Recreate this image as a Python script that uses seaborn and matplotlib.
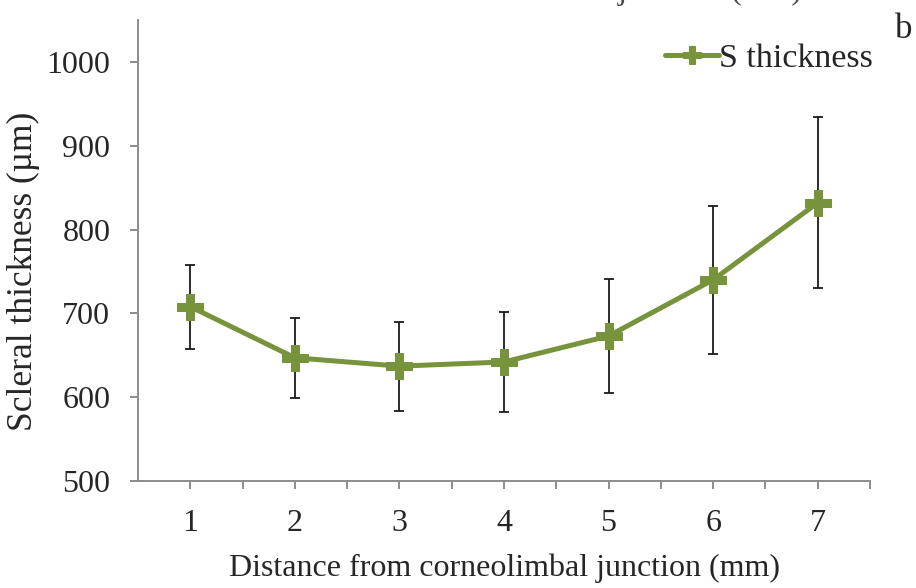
import matplotlib
matplotlib.use("Agg")
import matplotlib.pyplot as plt
from matplotlib.ticker import FixedLocator
import seaborn as sns
import pandas as pd

# Scleral thickness by distance from the corneolimbal junction
distance_mm = [1, 2, 3, 4, 5, 6, 7]
thickness_um = [708, 647, 637, 642, 673, 740, 832]
thickness_sd = [50, 48, 53, 60, 68, 88, 102]

series_label = "S thickness"
panel_letter = "b"
x_label = "Distance from corneolimbal junction (mm)"
y_label = "Scleral thickness (\u00b5m)"
y_ticks = [500, 600, 700, 800, 900, 1000]

sns.set_style("white")
plt.rcParams["font.family"] = ["Liberation Serif", "DejaVu Serif"]

green = "#77933C"
axis_grey = "#8C8C8C"
fs = 23

df = pd.DataFrame({"distance": distance_mm, "thickness": thickness_um, "sd": thickness_sd})

fig = plt.figure(figsize=(9.16, 5.88), dpi=100)
ax = fig.add_axes([0.1507, 0.182, 0.7991, 0.784])

ax.errorbar(df["distance"], df["thickness"], yerr=df["sd"], fmt="none",
            ecolor="#1a1a1a", elinewidth=1.3, capsize=3.6, capthick=1.3, zorder=2)
sns.lineplot(data=df, x="distance", y="thickness", ax=ax, color=green,
             linewidth=3.6, marker="P", markersize=19, markeredgecolor=green,
             markerfacecolor=green, label=series_label, zorder=3)

ax.set_xlim(0.5, 7.5)
ax.set_ylim(500, 1050)
ax.xaxis.set_major_locator(FixedLocator(distance_mm))
ax.xaxis.set_minor_locator(FixedLocator([d + 0.5 for d in distance_mm]))
ax.set_yticks(y_ticks)

for side in ("top", "right"):
    ax.spines[side].set_visible(False)
for side in ("left", "bottom"):
    ax.spines[side].set_color(axis_grey)
    ax.spines[side].set_linewidth(1.4)

ax.tick_params(axis="x", which="both", bottom=True, direction="out", length=6,
               width=1.4, color=axis_grey, labelsize=fs, pad=14)
ax.tick_params(axis="y", which="major", left=True, direction="out", length=6,
               width=1.4, color=axis_grey, labelsize=fs, pad=14)

ax.set_xlabel(x_label, fontsize=fs, labelpad=11)
ax.set_ylabel(y_label, fontsize=25.5)
ax.yaxis.set_label_coords(-0.134, 0.454)

ax.legend(loc="upper right", bbox_to_anchor=(1.032, 0.994), frameon=False,
          fontsize=24.5, handlelength=1.6, handletextpad=0.0,
          borderaxespad=0.2, markerscale=0.68)

fig.text(0.987, 0.949, panel_letter, fontsize=25, ha="center", va="center")
# header of the panel above, running off the top edge
fig.text(0.575, 1.002, x_label, fontsize=fs, ha="center", va="baseline",
         color="#444444")

fig.savefig("out.png", dpi=100)
